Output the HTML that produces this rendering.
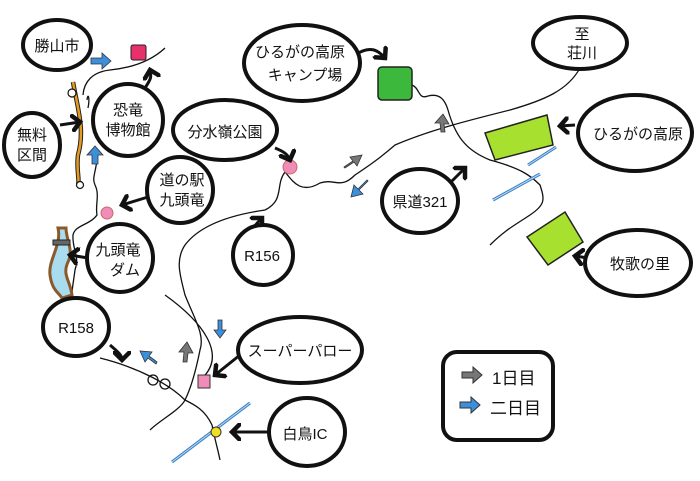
<!DOCTYPE html>
<html><head><meta charset="utf-8"><style>
html,body{margin:0;padding:0;background:#fff;}
svg{display:block;}
text{font-family:"Liberation Sans","Noto Sans CJK JP",sans-serif;fill:#111;}
</style></head><body>
<svg width="700" height="481" viewBox="0 0 700 481" xmlns="http://www.w3.org/2000/svg">
<defs>
<marker id="ah" markerWidth="6" markerHeight="6" refX="3" refY="3" orient="auto"><path d="M0,0 L3,3 L0,6" fill="none" stroke="#111" stroke-width="1.5"/></marker>
</defs>
<g fill="none" stroke="#111" stroke-width="1.3">
<path d="M83,95 C84,82 92,72 110,70 C130,68 150,62 165,48"/>
<path d="M87,100 C88,92 90,98 88,108"/>
<path d="M97,160 C95,175 92,178 95,185 C100,195 95,205 97,215 C90,225 75,225 73,235 C72,250 80,255 75,270 C73,285 70,300 72,308"/>
<path d="M165,295 C200,320 230,355 200,380"/>
<path d="M100,358 C140,368 170,385 185,400 C180,410 160,420 150,430"/>
<path d="M285,172 C292,180 300,195 320,183 C335,178 340,190 355,175 C370,165 380,158 395,145 C430,130 470,120 510,110 C545,100 568,90 580,68"/>
<path d="M285,172 C275,185 285,200 265,210 C230,215 200,225 185,245 C175,260 180,275 185,295 C195,320 205,335 200,350 C195,375 190,390 185,400 C195,405 205,410 212,425 C215,440 218,450 220,460"/>
<path d="M412,85 C420,88 418,100 428,96 C440,93 445,100 448,110 C455,135 465,150 490,160 C520,168 530,175 540,185 C545,200 545,205 530,215 C515,225 505,230 490,245"/>
</g>
<g stroke="#3a7fc8" stroke-width="3" fill="none">
<path d="M172,462 L250,403"/><path d="M493,200 L540,174"/>
<path d="M528,165 L556,147"/>
</g>
<g stroke="#bde" stroke-width="1" fill="none">
<path d="M172,462 L250,403"/><path d="M493,200 L540,174"/><path d="M528,165 L556,147"/>
</g>
<path d="M73,82 C78,110 85,130 78,155 C76,170 80,180 78,185" stroke="#222" stroke-width="4.5" fill="none"/>
<path d="M73,82 C78,110 85,130 78,155 C76,170 80,180 78,185" stroke="#e89a1e" stroke-width="2.5" fill="none"/>
<circle cx="72" cy="93" r="4" fill="#fff" stroke="#111" stroke-width="1.2"/>
<circle cx="80" cy="185" r="3.5" fill="#fff" stroke="#111" stroke-width="1.2"/>
<path d="M58,228 C62,245 48,260 50,275 C52,290 58,292 62,298 L72,295 C70,280 62,275 68,262 C74,250 66,240 66,228 Z" fill="#a9dcef" stroke="#8a5a2a" stroke-width="3"/>
<rect x="53" y="240" width="17" height="5" fill="#666" stroke="#222"/>
<circle cx="153" cy="380" r="5" fill="none" stroke="#111" stroke-width="1.3"/>
<circle cx="165" cy="384" r="5" fill="none" stroke="#111" stroke-width="1.3"/>
<rect x="131" y="45" width="15" height="15" rx="2" fill="#e8306a" stroke="#222"/>
<rect x="378" y="67" width="34" height="33" rx="4" fill="#3cb83c" stroke="#222" stroke-width="1.5"/>
<polygon points="485,133 547,115 553,145 495,160" fill="#a8e030" stroke="#222" stroke-width="1.5"/>
<polygon points="527,237 565,212 583,242 548,265" fill="#a8e030" stroke="#222" stroke-width="1.5"/>
<circle cx="290" cy="167" r="7" fill="#f08cb8" stroke="#c66"/>
<circle cx="107" cy="213" r="6" fill="#f08cb8" stroke="#c66"/>
<rect x="198" y="375" width="12" height="13" fill="#f08cb8" stroke="#333"/>
<circle cx="216" cy="432" r="5" fill="#f0e020" stroke="#333"/>
<g stroke="#333" stroke-width="0.8">
<path d="M91,58 h11 v-5 l9,8 -9,8 v-5 h-11 z" fill="#3d8fdc"/>
<path d="M92,164 v-9 h-5 l8,-9 8,9 h-5 v9 z" fill="#3d8fdc"/>
<path d="M367,180 l-9,9 -4,-4 -3,12 12,-3 -4,-4 9,-9 z" fill="#3d8fdc"/>
<path d="M218,320 v10 h-4 l6,8 6,-8 h-4 v-10 z" fill="#3d8fdc"/>
<path d="M157,362 l-8,-6 3,-4 -12,-1 5,11 3,-4 8,6 z" fill="#3d8fdc"/>
<path d="M183,362 l1,-10 -5,0 8,-10 6,11 -5,0 -1,9 z" fill="#777"/>
<path d="M344,167 l9,-6 -3,-4 12,-2 -5,11 -3,-4 -9,6 z" fill="#777"/>
<path d="M441,132 l-1,-9 -5,0 8,-9 6,10 -5,0 1,8 z" fill="#777"/>
</g>
<g stroke="#111" stroke-width="3" fill="none" marker-end="url(#ah)">
<path d="M60,125 L80,122"/>
<path d="M145,88 C150,80 152,78 150,70"/>
<path d="M275,148 C285,152 288,155 290,160"/>
<path d="M148,197 L122,205"/>
<path d="M88,258 L70,255"/>
<path d="M110,345 C118,352 122,355 122,360"/>
<path d="M250,232 C255,225 258,222 262,218"/>
<path d="M240,355 L215,375"/>
<path d="M268,432 L232,432"/>
<path d="M450,183 L465,168"/>
<path d="M575,125 L560,126"/>
<path d="M588,258 L575,256"/>
<path d="M355,55 C370,45 378,50 385,58"/>
</g>
<g fill="#fff" stroke="#111" stroke-width="4">
<ellipse cx="57" cy="45" rx="34" ry="25"/>
<ellipse cx="128" cy="120" rx="35" ry="36"/>
<ellipse cx="32" cy="145" rx="28" ry="32"/>
<ellipse cx="180" cy="190" rx="33" ry="33"/>
<ellipse cx="120" cy="258" rx="33" ry="34"/>
<ellipse cx="76" cy="327" rx="33" ry="29"/>
<ellipse cx="225" cy="130" rx="52" ry="30"/>
<ellipse cx="302" cy="63" rx="58" ry="38"/>
<ellipse cx="263" cy="255" rx="30" ry="30"/>
<ellipse cx="300" cy="350" rx="62" ry="33"/>
<ellipse cx="307" cy="432" rx="38" ry="34"/>
<ellipse cx="420" cy="201" rx="38" ry="32"/>
<ellipse cx="580" cy="43" rx="47" ry="26"/>
<ellipse cx="635" cy="133" rx="57" ry="38"/>
<ellipse cx="638" cy="263" rx="53" ry="33"/>
<rect x="443" y="352" width="110" height="88" rx="14"/>
</g>
<g font-size="15" text-anchor="middle">
<text x="57" y="51">勝山市</text>
<text x="128" y="115">恐竜</text><text x="128" y="135">博物館</text>
<text x="32" y="140">無料</text><text x="32" y="160">区間</text>
<text x="182" y="185">道の駅</text><text x="182" y="205">九頭竜</text>
<text x="118" y="255">九頭竜</text><text x="125" y="275">ダム</text>
<text x="76" y="333">R158</text>
<text x="225" y="137">分水嶺公園</text>
<text x="300" y="57">ひるがの高原</text><text x="305" y="80">キャンプ場</text>
<text x="262" y="261">R156</text>
<text x="300" y="356">スーパーパロー</text>
<text x="305" y="439">白鳥IC</text>
<text x="420" y="207">県道321</text>
<text x="582" y="39">至</text><text x="582" y="58">荘川</text>
<text x="638" y="139">ひるがの高原</text>
<text x="640" y="269">牧歌の里</text>
<text x="492" y="384" text-anchor="start" font-size="17">1日目</text>
<text x="490" y="414" text-anchor="start" font-size="17">二日目</text>
</g>
<path d="M462,372 h11 v-5 l9,8 -9,8 v-5 h-11 z" fill="#777" stroke="#333"/>
<path d="M460,402 h11 v-5 l9,8 -9,8 v-5 h-11 z" fill="#3d8fdc" stroke="#333"/>
</svg>
</body></html>
